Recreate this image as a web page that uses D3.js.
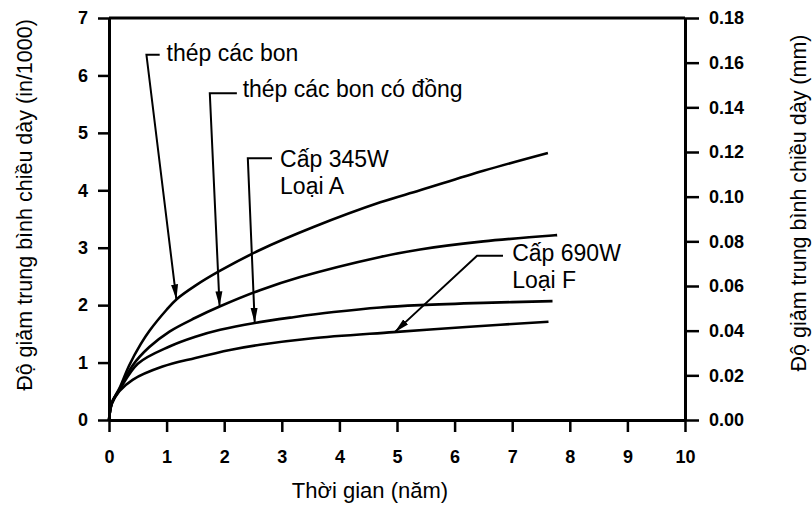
<!DOCTYPE html>
<html>
<head>
<meta charset="utf-8">
<script src="https://cdn.jsdelivr.net/npm/d3@7"></script>
<style>
body { margin: 0; background: #fff; }
text { font-family: Arial, "Liberation Sans", sans-serif; fill: #000; }
</style>
</head>
<body>
<div id="chart"></div>
<script>
// axis ticks
var xTicks = [0, 1, 2, 3, 4, 5, 6, 7, 8, 9, 10];
var leftTicks = [0, 1, 2, 3, 4, 5, 6, 7];
var rightTicks = [0, 0.02, 0.04, 0.06, 0.08, 0.10, 0.12, 0.14, 0.16, 0.18];

// curves, years vs thickness loss (in/1000)
var carbonX = [0, 0.05, 0.18, 0.35, 0.55, 0.7, 1.0, 1.17, 1.5, 1.93, 2.62, 3.55, 4.71, 5.4, 6.5, 7.62];
var carbonY = [0, 0.3, 0.55, 0.95, 1.32, 1.55, 1.92, 2.1, 2.34, 2.6, 2.96, 3.36, 3.79, 4.0, 4.34, 4.65];

var copperX = [0, 0.05, 0.18, 0.41, 0.7, 1.05, 1.5, 1.93, 2.62, 3.32, 4.71, 5.4, 6.5, 7.78];
var copperY = [0, 0.3, 0.53, 0.95, 1.27, 1.54, 1.78, 1.98, 2.26, 2.49, 2.84, 2.97, 3.11, 3.22];

var grade345X = [0, 0.05, 0.18, 0.5, 1.05, 1.5, 1.93, 2.53, 3.2, 3.9, 4.71, 5.4, 6.5, 7.7];
var grade345Y = [0, 0.3, 0.52, 0.98, 1.28, 1.45, 1.57, 1.69, 1.79, 1.88, 1.96, 2.0, 2.04, 2.07];

var grade690X = [0, 0.05, 0.18, 0.41, 0.93, 1.5, 2.1, 2.62, 3.5, 4.94, 6.2, 7.63];
var grade690Y = [0, 0.28, 0.5, 0.7, 0.93, 1.08, 1.22, 1.31, 1.42, 1.53, 1.62, 1.71];

// callouts (data units): text lines, text anchor, elbow start, elbow end, arrow tip
var labelLines = [["thép các bon"], ["thép các bon có đồng"], ["Cấp 345W", "Loại A"], ["Cấp 690W", "Loại F"]];
var labelX = [1.0, 2.32, 2.97, 7.0];
var labelY = [6.25, 5.62, 4.41, 2.76];
var elbowEndX = [0.88, 2.22, 2.83, 6.84];
var elbowX = [0.65, 1.75, 2.41, 6.39];
var elbowY = [6.36, 5.69, 4.56, 2.86];
var tipX = [1.17, 1.92, 2.53, 4.96];
var tipY = [2.1, 1.98, 1.69, 1.53];

var series = [
    {x: carbonX, y: carbonY},
    {x: copperX, y: copperY},
    {x: grade345X, y: grade345Y},
    {x: grade690X, y: grade690Y}
];

var width = 812, height = 521;
var svg = d3.select("#chart").append("svg")
    .attr("width", width)
    .attr("height", height);

var x = d3.scaleLinear().domain([0, 10]).range([109, 685]);
var y = d3.scaleLinear().domain([0, 7]).range([420, 18]);
var yR = d3.scaleLinear().domain([0, 0.18]).range([420, 18]);

var defs = svg.append("defs");
defs.append("marker")
    .attr("id", "arrow")
    .attr("markerUnits", "userSpaceOnUse")
    .attr("viewBox", "0 -4 16 8")
    .attr("refX", 15)
    .attr("refY", 0)
    .attr("markerWidth", 16)
    .attr("markerHeight", 8)
    .attr("orient", "auto")
    .append("path")
    .attr("d", "M0,-3.5L15,0L0,3.5Z")
    .attr("fill", "#000");

// top border
svg.append("line")
    .attr("x1", x(0)).attr("x2", x(10))
    .attr("y1", y(7)).attr("y2", y(7))
    .attr("stroke", "#000").attr("stroke-width", 3);

function styleAxis(g) {
    g.select(".domain").attr("stroke-width", 3);
    g.selectAll(".tick line").attr("stroke-width", 2.5);
    g.selectAll(".tick text")
        .style("font-size", "18px")
        .style("font-weight", "bold");
}

svg.append("g")
    .attr("transform", "translate(" + x(0) + ",0)")
    .call(d3.axisLeft(y).tickValues(leftTicks).tickFormat(d3.format("d"))
        .tickSize(11).tickSizeOuter(0).tickPadding(10))
    .call(styleAxis);

svg.append("g")
    .attr("transform", "translate(0," + y(0) + ")")
    .call(d3.axisBottom(x).tickValues(xTicks).tickFormat(d3.format("d"))
        .tickSize(12).tickSizeOuter(0).tickPadding(18))
    .call(styleAxis);

svg.append("g")
    .attr("transform", "translate(" + x(10) + ",0)")
    .call(d3.axisRight(yR).tickValues(rightTicks).tickFormat(d3.format(".2f"))
        .tickSize(14).tickSizeOuter(0).tickPadding(10))
    .call(styleAxis);

// axis titles
svg.append("text")
    .attr("transform", "translate(32," + ((y(0) + y(7)) / 2 - 14) + ") rotate(-90)")
    .attr("text-anchor", "middle")
    .style("font-size", "21.5px")
    .text("Độ giảm trung bình chiều dày (in/1000)");

svg.append("text")
    .attr("transform", "translate(806,203) rotate(-90)")
    .attr("text-anchor", "middle")
    .style("font-size", "21.5px")
    .text("Độ giảm trung bình chiều dày (mm)");

svg.append("text")
    .attr("x", 370)
    .attr("y", 498)
    .attr("text-anchor", "middle")
    .style("font-size", "22px")
    .text("Thời gian (năm)");

// curves
var line = d3.line()
    .x(function (d) { return x(d[0]); })
    .y(function (d) { return y(d[1]); })
    .curve(d3.curveCatmullRom.alpha(0.5));

svg.selectAll(".curve")
    .data(series)
    .enter().append("path")
    .attr("class", "curve")
    .attr("fill", "none")
    .attr("stroke", "#000")
    .attr("stroke-width", 2.6)
    .attr("d", function (s) {
        return line(s.x.map(function (v, i) { return [v, s.y[i]]; }));
    });

// callouts
labelLines.forEach(function (lines, i) {
    svg.append("path")
        .attr("fill", "none")
        .attr("stroke", "#000")
        .attr("stroke-width", 2)
        .attr("marker-end", "url(#arrow)")
        .attr("d", "M" + x(elbowEndX[i]) + "," + y(elbowY[i]) +
            "L" + x(elbowX[i]) + "," + y(elbowY[i]) +
            "L" + x(tipX[i]) + "," + y(tipY[i]));

    var t = svg.append("text")
        .attr("x", x(labelX[i]))
        .attr("y", y(labelY[i]))
        .style("font-size", "23px");
    lines.forEach(function (s, j) {
        t.append("tspan")
            .attr("x", x(labelX[i]))
            .attr("dy", j === 0 ? 0 : 27)
            .text(s);
    });
});
</script>
</body>
</html>
